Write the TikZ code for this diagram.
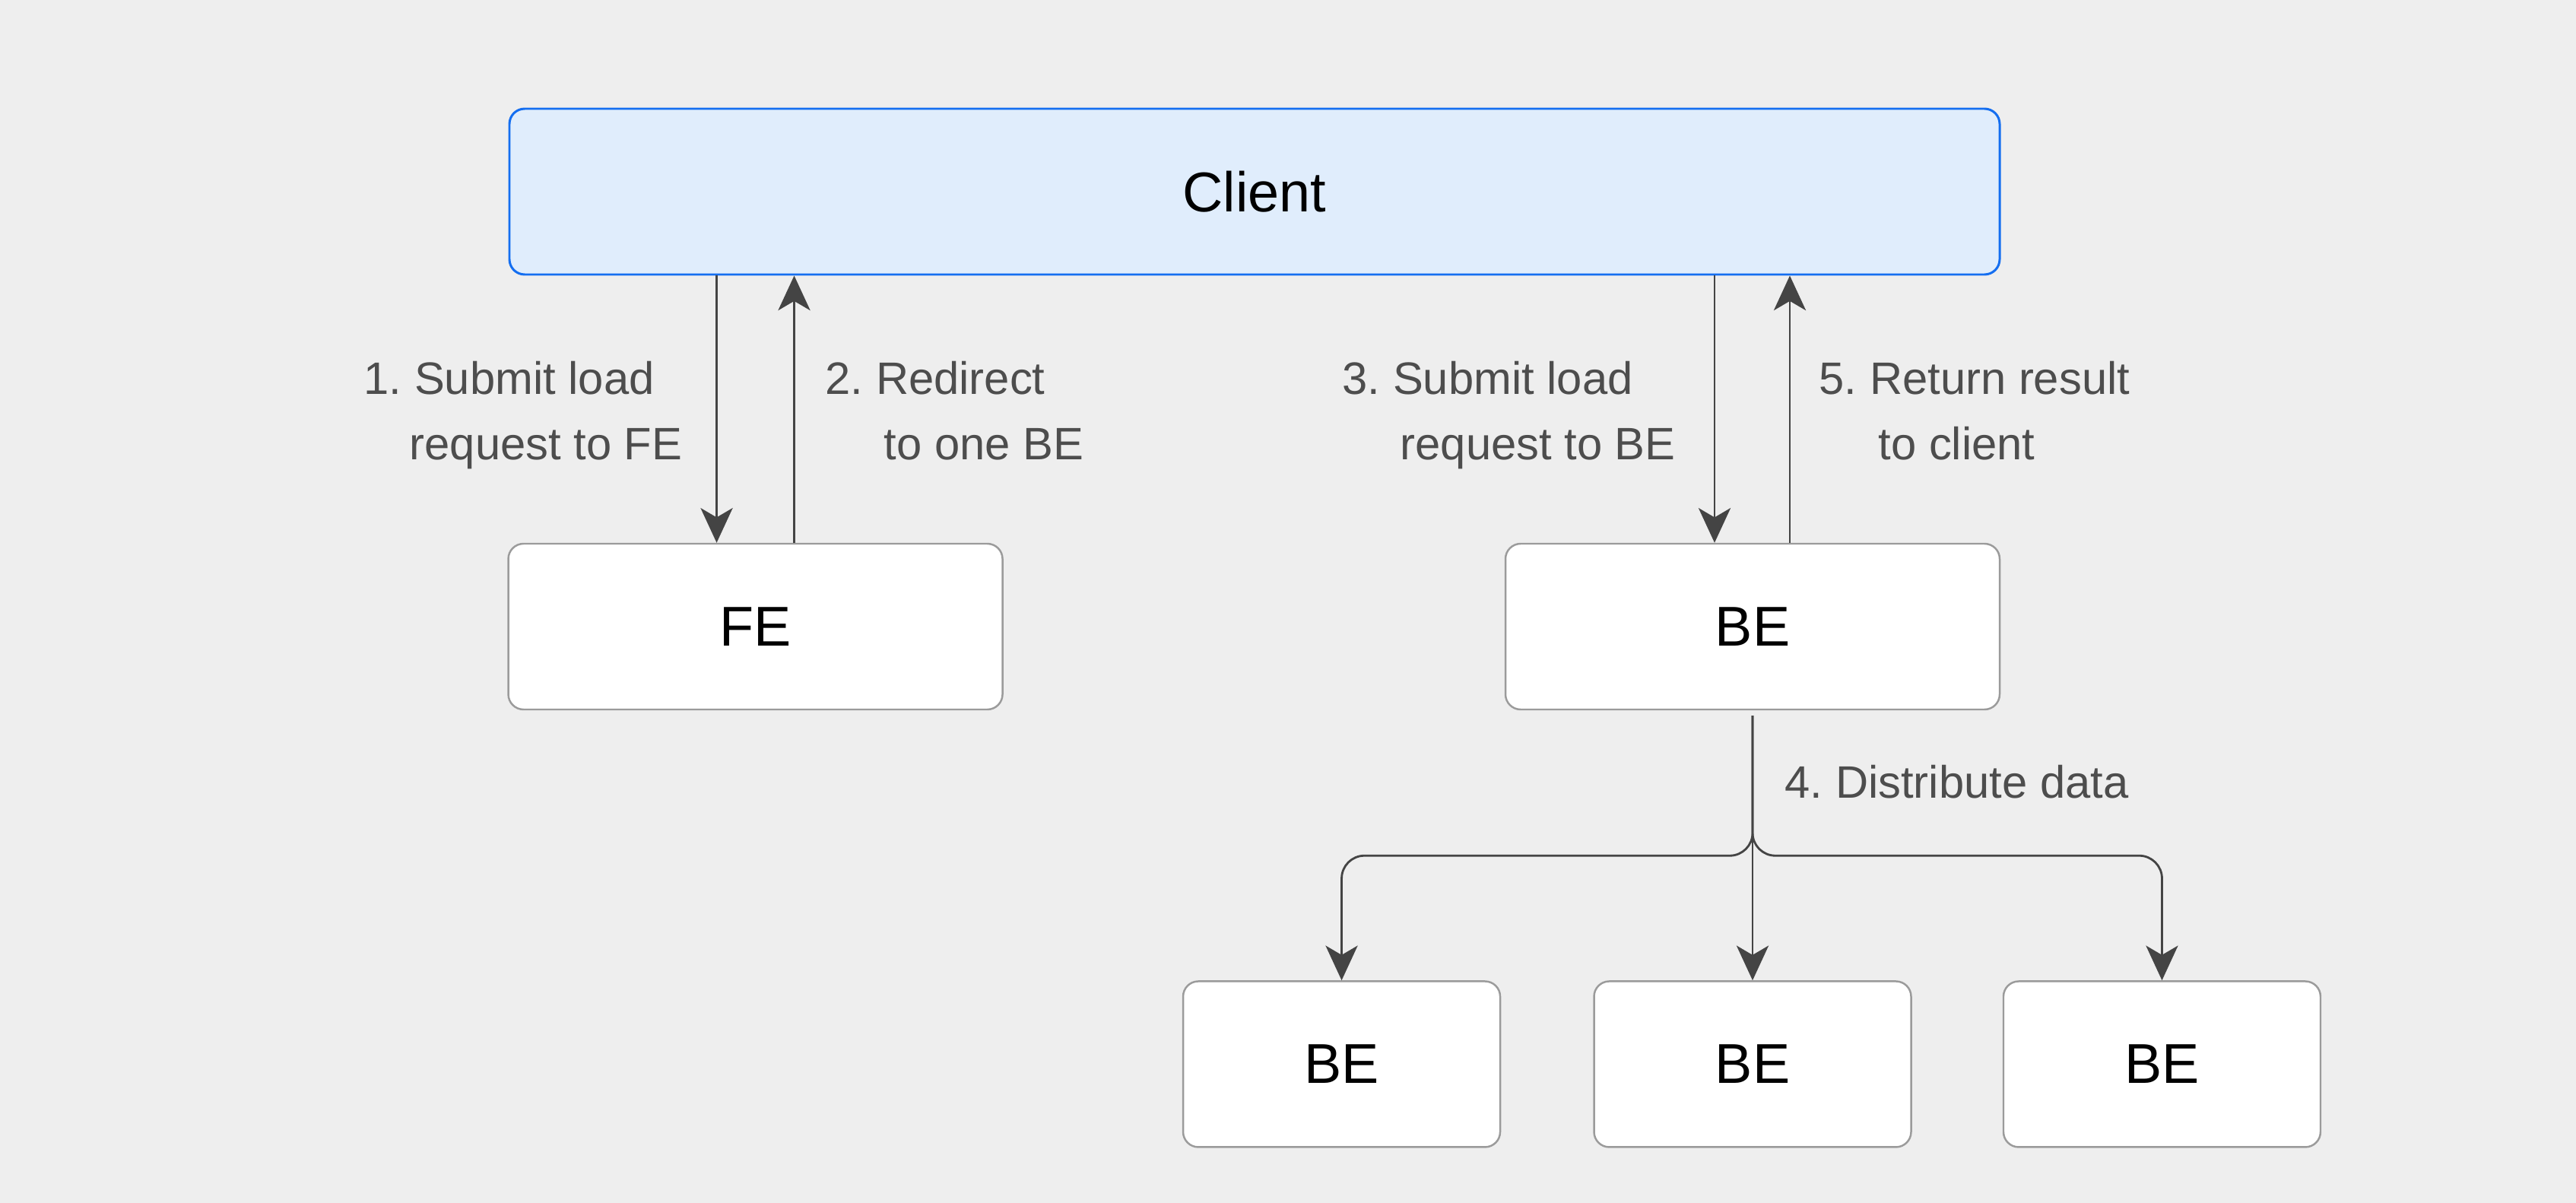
\documentclass[tikz,border=0pt]{standalone}
\usepackage{fontspec}
\setmainfont{Liberation Sans}
\frenchspacing
\definecolor{loadBg}{RGB}{238,238,238}
\definecolor{loadBlue}{RGB}{20,110,240}
\definecolor{loadLight}{RGB}{224,237,252}
\definecolor{loadGrey}{RGB}{155,155,155}
\definecolor{loadLine}{RGB}{68,68,68}
\definecolor{loadText}{RGB}{77,77,77}
\usetikzlibrary{arrows.meta,positioning,calc}

\begin{document}
\begin{tikzpicture}[
  box/.style={draw=loadGrey, line width=0.7pt, fill=white, rounded corners=0.2cm,
              minimum height=2.18cm, font=\fontsize{21}{24}\selectfont},
  flow/.style={draw=loadLine, line width=0.8pt,
               -{Stealth[length=13pt, width=12pt, inset=3.5pt]}},
  lbl/.style={inner sep=0pt, anchor=north west, align=left, text=loadText,
              font=\fontsize{17}{24.7}\selectfont}
]
  \fill[loadBg] (0,0) rectangle (33.88,-15.82);
  \useasboundingbox (0,0) rectangle (33.88,-15.82);

  \node[box, draw=loadBlue, line width=0.85pt, fill=loadLight, minimum width=19.6cm]
    (client) at (16.5,-2.52) {Client};
  \node[box, minimum width=6.5cm] (be0) at (23.05,-8.24) {BE};
  \node[box, minimum width=6.5cm, left=6.59cm of be0] (fe) {FE};
  \node[box, minimum width=4.17cm, below=3.55cm of be0] (be2) {BE};
  \node[box, minimum width=4.17cm, left=1.21cm of be2]  (be1) {BE};
  \node[box, minimum width=4.17cm, right=1.19cm of be2] (be3) {BE};

  % client <-> FE / BE
  \coordinate (feIn)  at ($(fe.north)+(-0.51,0)$);
  \coordinate (feOut) at ($(fe.north)+(0.51,0)$);
  \coordinate (beIn)  at ($(be0.north)+(-0.5,0)$);
  \coordinate (beOut) at ($(be0.north)+(0.49,0)$);
  \draw[flow] (feIn |- client.south) -- (feIn);
  \draw[flow] (feOut) -- (feOut |- client.south);
  \draw[flow] (beIn |- client.south) -- (beIn);
  \draw[flow] (beOut) -- (beOut |- client.south);

  \node[lbl] (l1) at (4.78,-4.74) {1. Submit load\\\hspace*{0.6cm}request to FE};
  \node[lbl] (l2) at (10.85,-4.74) {2. Redirect\\\hspace*{0.77cm}to one BE};
  \node[lbl] (l3) at (17.65,-4.74) {3. Submit load\\\hspace*{0.76cm}request to BE};
  \node[lbl] (l5) at (23.92,-4.74) {5. Return result\\\hspace*{0.78cm}to client};

  % BE -> BEs
  \coordinate (beTop) at ($(be0.south)+(0,-0.07)$);
  \coordinate (split) at ($(be0.south)+(0,-1.91)$);
  \draw[flow, rounded corners=0.3cm] (beTop) -- (split) -| (be1.north);
  \draw[flow, rounded corners=0.3cm] (beTop) -- (split) -| (be3.north);
  \draw[flow] (beTop) -- (be2.north);
  \node[lbl] (l4) at (23.47,-10.05) {4. Distribute data};
\end{tikzpicture}
\end{document}
